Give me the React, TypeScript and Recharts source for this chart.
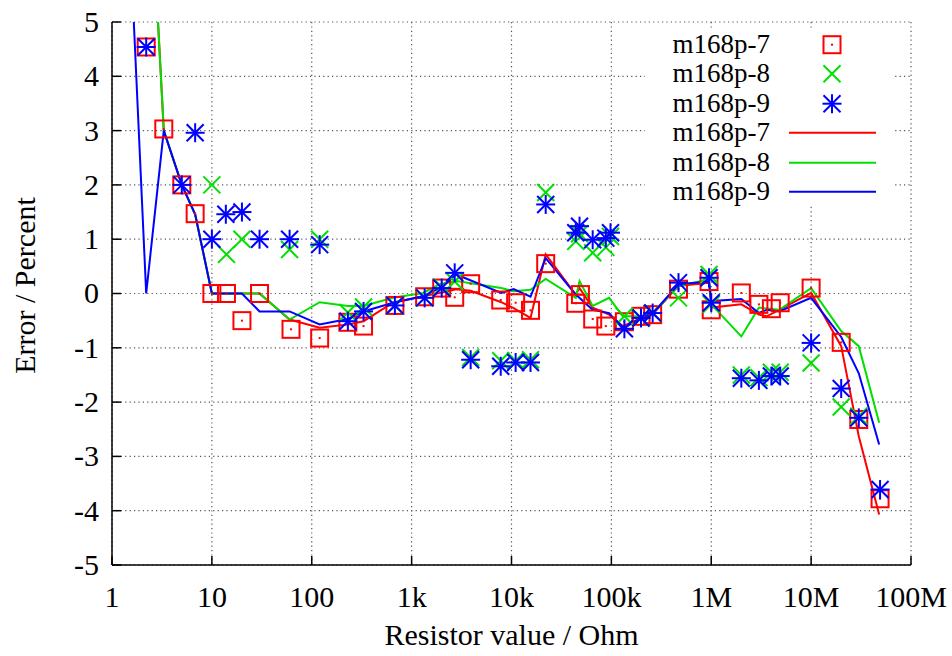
import React from 'react';
import { ComposedChart, Line, Scatter, XAxis, YAxis, CartesianGrid, Legend } from 'recharts';

// ---------- data ----------
const xMajorTicks = [1, 10, 100, 1e3, 1e4, 1e5, 1e6, 1e7, 1e8];
const xMajorLabels = ['1', '10', '100', '1k', '10k', '100k', '1M', '10M', '100M'];
const xMinorFactors = [2, 5, 8];
const yTicks = [-5, -4, -3, -2, -1, 0, 1, 2, 3, 4, 5];

const seriesNames = ['m168p-7', 'm168p-8', 'm168p-9'];

// markers: [resistor, error %]
const points7: [number, number][] = [
  [2.2, 4.54], [3.3, 3.03], [5, 2.0], [6.8, 1.47], [10, 0], [14, 0], [20, -0.5], [30, 0],
  [62, -0.66], [120, -0.82], [230, -0.53], [330, -0.6], [680, -0.22], [1350, -0.06],
  [2000, 0.1], [2700, -0.07], [3900, 0.18], [7800, -0.12], [11000, -0.17], [15500, -0.31],
  [22000, 0.55], [44000, -0.18], [49000, -0.02], [65000, -0.47], [88000, -0.6],
  [135000, -0.52], [198000, -0.42], [259000, -0.39], [470000, 0.08], [950000, 0.22],
  [1000000, -0.3], [2000000, 0.01], [3000000, -0.2], [4000000, -0.28], [4900000, -0.17],
  [10000000, 0.1], [20000000, -0.9], [30000000, -2.32], [49000000, -3.78],
];
const points8: [number, number][] = [
  [10, 2.0], [14, 0.72], [20, 1.0], [60, 0.81], [120, 1.0], [230, -0.35], [330, -0.25],
  [680, -0.22], [1350, -0.08], [2000, 0.12], [2700, 0.22], [3900, -1.18], [7800, -1.24],
  [11000, -1.24], [15500, -1.22], [22000, 1.86], [44000, 0.96], [48000, 1.1], [65000, 0.75],
  [88000, 0.85], [98000, 1.05], [135000, -0.42], [198000, -0.45], [259000, -0.36],
  [470000, -0.08], [950000, 0.35], [1000000, -0.2], [2000000, -1.5], [3000000, -1.55],
  [4000000, -1.45], [4900000, -1.45], [10000000, -1.28], [20000000, -2.09], [30000000, -2.26],
];
const points9: [number, number][] = [
  [2.2, 4.54], [5, 2.0], [6.8, 2.96], [10, 1.0], [13.8, 1.46], [20, 1.5], [30, 1.0], [60, 1.0],
  [120, 0.9], [230, -0.51], [330, -0.33], [680, -0.22], [1350, -0.08], [2000, 0.1],
  [2700, 0.38], [3900, -1.22], [7800, -1.34], [11000, -1.27], [15500, -1.27], [22000, 1.64],
  [44000, 1.12], [48000, 1.24], [65000, 0.99], [88000, 1.02], [98000, 1.12], [135000, -0.65],
  [198000, -0.45], [259000, -0.36], [470000, 0.2], [950000, 0.29], [1000000, -0.17],
  [2000000, -1.56], [3000000, -1.6], [4000000, -1.52], [4900000, -1.52], [10000000, -0.91],
  [20000000, -1.75], [30000000, -2.29], [49000000, -3.61],
];

// lines: [resistor, error %]
const line7: [number, number][] = [
  [2.2, 9.1], [3.3, 3.0], [5, 2.0], [6.8, 1.46], [10, 0], [20, 0], [30, 0], [60, -0.48],
  [120, -0.63], [230, -0.57], [330, -0.51], [650, -0.17], [1300, -0.05], [1900, 0.01],
  [2800, 0.08], [3900, 0.05], [7900, -0.16], [10500, -0.27], [15500, -0.45], [22000, 0.72],
  [44000, -0.02], [48000, 0.1], [65000, -0.26], [95000, -0.39], [130000, -0.6],
  [200000, -0.45], [260000, -0.38], [470000, 0.14], [950000, 0.2], [1000000, -0.26],
  [2000000, -0.2], [3000000, -0.39], [3600000, -0.42], [4800000, -0.3], [10000000, 0.01],
  [20000000, -0.97], [30000000, -2.63], [48000000, -4.07],
];
const line8: [number, number][] = [
  [2.2, 9.1], [3.3, 3.0], [5, 2.0], [6.8, 1.46], [10, 0], [20, 0], [30, 0], [60, -0.48],
  [120, -0.16], [230, -0.23], [330, -0.23], [650, -0.08], [1300, 0.01], [1900, 0.17],
  [2800, 0.23], [7900, 0.1], [10500, 0.04], [15500, 0.07], [22000, 0.27], [44000, -0.08],
  [48000, 0.23], [65000, -0.23], [95000, -0.08], [130000, -0.42], [200000, -0.42],
  [260000, -0.36], [470000, 0.14], [950000, 0.26], [1000000, -0.2], [2000000, -0.79],
  [3000000, -0.26], [4800000, -0.3], [10000000, 0.1], [20000000, -0.69], [30000000, -0.97],
  [48000000, -2.38],
];
const line9: [number, number][] = [
  [1.5, 6.7], [2.2, 0], [3.3, 3.0], [5, 2.0], [6.8, 1.46], [10, 0], [20, 0], [30, -0.33],
  [60, -0.33], [120, -0.57], [230, -0.47], [330, -0.33], [650, -0.17], [1300, -0.05],
  [1900, 0.1], [2800, 0.35], [7900, 0.01], [10500, 0.08], [15500, -0.06], [22000, 0.65],
  [44000, -0.02], [65000, -0.3], [95000, -0.36], [130000, -0.65], [200000, -0.45],
  [260000, -0.36], [470000, 0.17], [950000, 0.22], [1000000, -0.14], [2000000, -0.1],
  [3000000, -0.36], [3600000, -0.3], [4800000, -0.33], [10000000, -0.08], [20000000, -0.8],
  [30000000, -1.47], [48000000, -2.78],
];

// ---------- styling ----------
const RED = '#ff0000';
const GREEN = '#00e000';
const BLUE = '#0000ff';
const FONT = 'Liberation Serif, DejaVu Serif, Noto Serif, serif';
const FS = 30;
const LEG_FS = 27;

const W = 952;
const H = 656;
const MARGIN = { top: 22, right: 41, bottom: 0, left: 0 };
const Y_AXIS_W = 112;
const X_AXIS_H = 91;
const PLOT_H = H - MARGIN.top - MARGIN.bottom - X_AXIS_H;
const MAJOR_LEN = 9;
const MINOR_LEN = 5;

const toRows = (arr: [number, number][]) => arr.map(([r, e]) => ({ r, e }));
const xMinorTicks: number[] = [];
xMajorTicks.slice(0, -1).forEach((d) => xMinorFactors.forEach((f) => xMinorTicks.push(d * f)));
const xAllTicks = [...xMajorTicks, ...xMinorTicks].sort((a, b) => a - b);
const labelFor = (v: number) => {
  const i = xMajorTicks.findIndex((t) => Math.abs(t - v) / t < 1e-6);
  return i >= 0 ? xMajorLabels[i] : null;
};

// ---------- marker shapes ----------
const SQ = 8.5;
const SquareMark = ({ cx, cy, color = RED }: any) =>
  cx == null ? null : (
    <g>
      <rect x={cx - SQ} y={cy - SQ} width={2 * SQ} height={2 * SQ} fill="none" stroke={color} strokeWidth={2} />
      <rect x={cx - 1} y={cy - 1} width={2} height={2} fill={color} />
    </g>
  );
const CrossMark = ({ cx, cy, color = GREEN }: any) =>
  cx == null ? null : (
    <g stroke={color} strokeWidth={2}>
      <line x1={cx - SQ} y1={cy - SQ} x2={cx + SQ} y2={cy + SQ} />
      <line x1={cx - SQ} y1={cy + SQ} x2={cx + SQ} y2={cy - SQ} />
    </g>
  );
const StarMark = ({ cx, cy, color = BLUE }: any) =>
  cx == null ? null : (
    <g stroke={color} strokeWidth={2}>
      <line x1={cx - SQ} y1={cy - SQ} x2={cx + SQ} y2={cy + SQ} />
      <line x1={cx - SQ} y1={cy + SQ} x2={cx + SQ} y2={cy - SQ} />
      <line x1={cx} y1={cy - SQ - 1} x2={cx} y2={cy + SQ + 1} />
      <line x1={cx - SQ - 1} y1={cy} x2={cx + SQ + 1} y2={cy} />
    </g>
  );

// ---------- axis ticks ----------
const BottomTick = ({ x, y, payload }: any) => {
  const lab = labelFor(payload.value);
  return (
    <g>
      <line x1={x} x2={x} y1={y} y2={y - MAJOR_LEN} stroke="#000" strokeWidth={1.5} />
      {lab && (
        <text x={x} y={y + 42} textAnchor="middle" fontFamily={FONT} fontSize={FS} fill="#000">
          {lab}
        </text>
      )}
    </g>
  );
};
const TopTick = ({ x, y, payload }: any) => {
  const major = labelFor(payload.value) != null;
  const len = major ? MAJOR_LEN : MINOR_LEN;
  return (
    <g stroke="#000" strokeWidth={1.5}>
      <line x1={x} x2={x} y1={y} y2={y + len} />
      {!major && <line x1={x} x2={x} y1={y + PLOT_H} y2={y + PLOT_H - len} />}
    </g>
  );
};
const LeftTick = ({ x, y, payload }: any) => (
  <g>
    <line x1={x} x2={x + MAJOR_LEN} y1={y} y2={y} stroke="#000" strokeWidth={1.5} />
    <text x={x - 13} y={y} dy="0.33em" textAnchor="end" fontFamily={FONT} fontSize={FS} fill="#000">
      {payload.value}
    </text>
  </g>
);
const RightTick = ({ x, y }: any) => (
  <line x1={x} x2={x - MAJOR_LEN} y1={y} y2={y} stroke="#000" strokeWidth={1.5} />
);

const YLabel = ({ viewBox }: any) => {
  const cx = viewBox.x + 35;
  const cy = viewBox.y + viewBox.height / 2 - 8;
  return (
    <text x={cx} y={cy} transform={`rotate(-90, ${cx}, ${cy})`} textAnchor="middle" fontFamily={FONT} fontSize={FS} fill="#000">
      Error / Percent
    </text>
  );
};
const XLabel = ({ viewBox }: any) => (
  <text x={viewBox.x + viewBox.width / 2} y={viewBox.y + 80} textAnchor="middle" fontFamily={FONT} fontSize={FS} fill="#000">
    Resistor value / Ohm
  </text>
);

// ---------- legend ----------
const LEG_W = 248;
const ROW_H = 29.4;
const legendItems = [
  { name: seriesNames[0], kind: 'square', color: RED },
  { name: seriesNames[1], kind: 'cross', color: GREEN },
  { name: seriesNames[2], kind: 'star', color: BLUE },
  { name: seriesNames[0], kind: 'line', color: RED },
  { name: seriesNames[1], kind: 'line', color: GREEN },
  { name: seriesNames[2], kind: 'line', color: BLUE },
];
const LegendBox = () => (
  <div style={{ background: '#fff', width: LEG_W, height: ROW_H * legendItems.length, fontFamily: FONT, fontSize: LEG_FS }}>
    {legendItems.map((it, i) => (
      <div key={i} style={{ position: 'relative', height: ROW_H, lineHeight: `${ROW_H}px` }}>
        <span style={{ position: 'absolute', right: LEG_W - 125, top: 0, whiteSpace: 'nowrap', color: '#000' }}>{it.name}</span>
        <svg style={{ position: 'absolute', left: 140, top: 0 }} width={100} height={ROW_H}>
          {it.kind === 'square' && <SquareMark cx={47} cy={ROW_H / 2} color={it.color} />}
          {it.kind === 'cross' && <CrossMark cx={47} cy={ROW_H / 2} color={it.color} />}
          {it.kind === 'star' && <StarMark cx={47} cy={ROW_H / 2} color={it.color} />}
          {it.kind === 'line' && <line x1={4} x2={91} y1={ROW_H / 2} y2={ROW_H / 2} stroke={it.color} strokeWidth={2} />}
        </svg>
      </div>
    ))}
  </div>
);

export default function App() {
  const axisLine = { stroke: '#000', strokeWidth: 1.5 };
  return (
    <div style={{ position: 'absolute', left: 0, top: 0, background: '#fff' }}>
      <ComposedChart width={W} height={H} margin={MARGIN}>
        <CartesianGrid xAxisId="b" yAxisId="l" stroke="#555" strokeWidth={1.2} strokeDasharray="1.2 3.2" />
        <XAxis
          xAxisId="b" dataKey="r" type="number" scale="log" domain={[1, 1e8]} allowDataOverflow
          ticks={xMajorTicks} interval={0} tick={<BottomTick />} tickLine={false} tickSize={0} tickMargin={0}
          axisLine={axisLine} height={X_AXIS_H} label={<XLabel />}
        />
        <XAxis
          xAxisId="t" orientation="top" dataKey="r" type="number" scale="log" domain={[1, 1e8]} allowDataOverflow
          ticks={xAllTicks} interval={0} tick={<TopTick />} tickLine={false} tickSize={0} tickMargin={0}
          axisLine={axisLine} height={0}
        />
        <YAxis
          yAxisId="l" dataKey="e" type="number" domain={[-5, 5]} allowDataOverflow ticks={yTicks} interval={0}
          tick={<LeftTick />} tickLine={false} tickSize={0} tickMargin={0} axisLine={axisLine} width={Y_AXIS_W}
          label={<YLabel />}
        />
        <YAxis
          yAxisId="r" orientation="right" dataKey="e" type="number" domain={[-5, 5]} allowDataOverflow ticks={yTicks}
          interval={0} tick={<RightTick />} tickLine={false} tickSize={0} tickMargin={0} axisLine={axisLine} width={0}
        />
        <Legend
          layout="horizontal" verticalAlign="middle" align="center" content={<LegendBox />}
          wrapperStyle={{ left: 645, top: 30, width: LEG_W, height: ROW_H * 6 }}
        />
        <Scatter xAxisId="b" yAxisId="l" name={seriesNames[0]} data={toRows(points7)} shape={<SquareMark />} isAnimationActive={false} />
        <Scatter xAxisId="b" yAxisId="l" name={seriesNames[1]} data={toRows(points8)} shape={<CrossMark />} isAnimationActive={false} />
        <Scatter xAxisId="b" yAxisId="l" name={seriesNames[2]} data={toRows(points9)} shape={<StarMark />} isAnimationActive={false} />
        <Line xAxisId="b" yAxisId="l" name={seriesNames[0]} data={toRows(line7)} dataKey="e" type="linear" stroke={RED} strokeWidth={2} dot={false} activeDot={false} isAnimationActive={false} />
        <Line xAxisId="b" yAxisId="l" name={seriesNames[1]} data={toRows(line8)} dataKey="e" type="linear" stroke={GREEN} strokeWidth={2} dot={false} activeDot={false} isAnimationActive={false} />
        <Line xAxisId="b" yAxisId="l" name={seriesNames[2]} data={toRows(line9)} dataKey="e" type="linear" stroke={BLUE} strokeWidth={2} dot={false} activeDot={false} isAnimationActive={false} />
      </ComposedChart>
    </div>
  );
}
